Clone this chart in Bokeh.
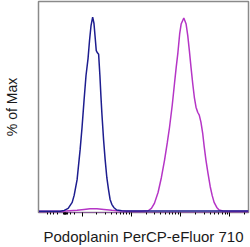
from bokeh.plotting import figure
from bokeh.models import FixedTicker, Range1d
from bokeh.embed import file_html
from bokeh.resources import INLINE

# x in display units: u = log10(intensity) in the log region (10^1 at u=1)
blue_x = [0.115, 0.557, 0.638, 0.718, 0.799, 0.839, 0.899, 0.960, 1.000, 1.040, 1.080,
          1.121, 1.151, 1.181, 1.215, 1.241, 1.268, 1.288, 1.312, 1.336, 1.362, 1.382,
          1.402, 1.437, 1.469, 1.503, 1.537, 1.569, 1.604, 1.644, 1.704, 1.805, 1.905, 4.38]
blue_y = [0, 0, 0.5, 1.5, 4.6, 8.2, 16.3, 31.6, 43.4, 57.1, 69.9,
          78.6, 87.8, 95.4, 100, 96.9, 88.8, 82.7, 81.6, 80.9, 69.9, 59.7,
          50.5, 36.7, 26.5, 17.3, 11.2, 6.1, 3.6, 2.0, 0.7, 0.3, 0.2, 0.2]

mag_x = [0.115, 0.598, 0.899, 1.040, 1.161, 1.302, 1.443, 1.604, 1.704, 1.905, 2.207,
         2.342, 2.408, 2.469, 2.543, 2.610, 2.676, 2.730, 2.777, 2.831, 2.877, 2.911,
         2.946, 2.982, 3.012, 3.066, 3.113, 3.147, 3.179, 3.213, 3.247, 3.280, 3.314,
         3.348, 3.380, 3.414, 3.449, 3.481, 3.515, 3.555, 3.602, 3.642, 3.682, 3.736,
         3.783, 3.857, 4.018, 4.38]
mag_y = [0, 0, 0.5, 1.0, 1.3, 1.3, 1.0, 0.5, 0.3, 0, 0,
         0.3, 1.5, 4.1, 9.7, 17.3, 26.5, 35.2, 43.4, 54.6, 65.8, 74.0,
         81.6, 91.3, 96.4, 99.5, 96.4, 90.3, 82.7, 74.0, 65.8, 58.7, 53.6,
         51.0, 49.5, 45.9, 40.3, 33.2, 26.5, 19.9, 12.8, 8.2, 4.6, 2.0,
         0.7, 0.2, 0, 0]

major_ticks = [1, 2, 3, 4]
minor_ticks = [0.30, 0.36, 0.42, 0.50, 0.62, 0.64, 0.65, 0.66, 0.67, 0.68, 0.70, 0.76, 0.84,
               1.301, 1.477, 1.602, 1.699, 1.778, 1.845, 1.903, 1.954,
               2.301, 2.477, 2.602, 2.699, 2.778, 2.845, 2.903, 2.954,
               3.301, 3.477, 3.602, 3.699, 3.778, 3.845, 3.903, 3.954,
               4.301]

p = figure(width=250, height=247, output_backend="svg", toolbar_location=None,
           x_range=Range1d(0.115, 4.38), y_range=Range1d(-0.6, 108),
           min_border_left=36, min_border_right=2, min_border_top=1, min_border_bottom=35)
p.background_fill_color = "white"
p.border_fill_color = "white"
p.grid.visible = False
p.outline_line_color = "#8a8a8a"
p.outline_line_width = 1.5

p.line(mag_x, mag_y, line_color="#b535c6", line_width=1.5)
p.line(blue_x, blue_y, line_color="#1d1d8f", line_width=1.5)

xa = p.xaxis[0]
xa.ticker = FixedTicker(ticks=major_ticks, minor_ticks=minor_ticks)
xa.major_label_overrides = {t: "" for t in major_ticks}
xa.major_label_standoff = 0
xa.major_tick_out = 4
xa.major_tick_in = 0
xa.minor_tick_out = 2
xa.minor_tick_in = 0
xa.major_tick_line_color = "black"
xa.minor_tick_line_color = "black"
xa.axis_line_color = "#8a5a9a"
xa.axis_label = "Podoplanin PerCP-eFluor 710"
xa.axis_label_text_font = "Liberation Sans"
xa.axis_label_text_font_style = "normal"
xa.axis_label_text_font_size = "15px"
xa.axis_label_text_color = "#1a1a1a"
xa.axis_label_standoff = 11

ya = p.yaxis[0]
ya.ticker = FixedTicker(ticks=[])
ya.major_tick_line_color = None
ya.minor_tick_line_color = None
ya.axis_line_color = "#8a8a8a"
ya.axis_label = "% of Max"
ya.axis_label_text_font = "Liberation Sans"
ya.axis_label_text_font_style = "normal"
ya.axis_label_text_font_size = "14px"
ya.axis_label_text_color = "#1a1a1a"
ya.axis_label_standoff = 19

open("out.html", "w").write(file_html(p, INLINE))
